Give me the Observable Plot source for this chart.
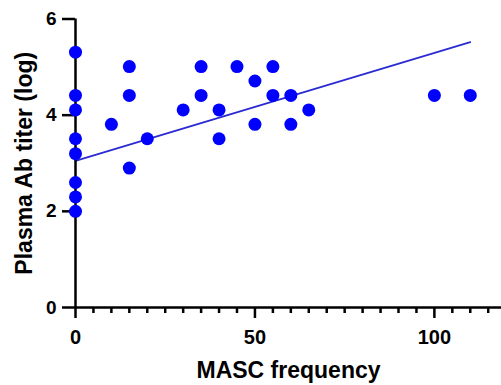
<!DOCTYPE html>
<html>
<head>
<meta charset="utf-8">
<script src="https://cdn.jsdelivr.net/npm/d3@7"></script>
<script src="https://cdn.jsdelivr.net/npm/@observablehq/plot@0.6"></script>
<style>
html, body { margin: 0; padding: 0; background: #fff; overflow: hidden; }
</style>
</head>
<body>
<div id="chart"></div>
<script>
// MASC frequency (x) and plasma Ab titer in log10 (y), one entry per subject
const mascFrequency = [0, 0, 0, 0, 0, 0, 0, 0, 10, 15, 15, 15, 20, 30, 35, 35, 40, 40, 45, 50, 50, 55, 55, 60, 60, 65, 100, 110];
const plasmaTiterLog = [5.31, 4.41, 4.11, 3.51, 3.20, 2.60, 2.30, 2.00, 3.81, 5.01, 4.41, 2.90, 3.51, 4.11, 5.01, 4.41, 4.11, 3.51, 5.01, 4.71, 3.81, 5.01, 4.41, 4.41, 3.81, 4.11, 4.41, 4.41];

// fitted trend line as drawn in the figure (end points)
const fitX = [0, 110];
const fitY = [3.05, 5.52];

// axis ticks
const xMajorTicks = [0, 50, 100];
const xMinorTicks = [5, 10, 15, 20, 25, 30, 35, 40, 45, 55, 60, 65, 70, 75, 80, 85, 90, 95, 105, 110, 115];
const yTicks = [0, 2, 4, 6];

const xTitle = "MASC frequency";
const yTitle = "Plasma Ab titer (log)";

const points = mascFrequency.map((x, i) => ({x, y: plasmaTiterLog[i]}));
const fit = fitX.map((x, i) => ({x, y: fitY[i]}));

const font = "'Liberation Sans', Arial, Helvetica, sans-serif";

const chart = Plot.plot({
  width: 501,
  height: 385,
  marginLeft: 75,
  marginRight: 0,
  marginTop: 18.5,
  marginBottom: 78,
  style: {fontFamily: font, background: "#fff", color: "#000"},
  x: {domain: [0, 118.7]},
  y: {domain: [0, 6]},
  marks: [
    Plot.line(fit, {x: "x", y: "y", stroke: "#2a2ad2", strokeWidth: 1.7}),
    Plot.ruleY([0], {stroke: "#000", strokeWidth: 2.5}),
    Plot.ruleX([0], {stroke: "#000", strokeWidth: 2.5}),
    Plot.axisX({ticks: xMinorTicks, tickSize: 6, tickFormat: () => "", strokeWidth: 2.5, label: null}),
    Plot.axisX({ticks: xMajorTicks, tickSize: 11, tickPadding: 11, tickFormat: d => String(d), fontSize: 20, fontWeight: "bold", strokeWidth: 2.5, label: null}),
    Plot.axisX({ticks: [], label: xTitle, labelAnchor: "center", labelOffset: 70, labelArrow: "none", fontSize: 23, fontWeight: "bold"}),
    Plot.axisY({ticks: yTicks, tickSize: 13, tickPadding: 6, tickFormat: d => String(d), fontSize: 19, fontWeight: "bold", strokeWidth: 2.5, label: null}),
    Plot.axisY({ticks: [], label: yTitle, labelAnchor: "center", labelOffset: 60, labelArrow: "none", fontSize: 23, fontWeight: "bold"}),
    Plot.dot(points, {x: "x", y: "y", r: 6.5, fill: "#0000ff"})
  ]
});

document.getElementById("chart").appendChild(chart);
</script>
</body>
</html>
